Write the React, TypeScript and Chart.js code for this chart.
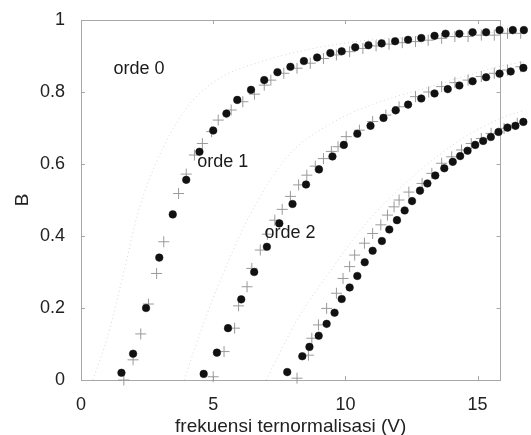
import React, { useEffect, useRef } from "react";
import { Chart, registerables } from "chart.js";

Chart.register(...registerables);

// Measured data: order 0, 1, 2 (filled circles)
const ord0X = [1.53, 1.97, 2.46, 2.96, 3.47, 3.98, 4.48, 5.0, 5.5, 5.91, 6.43, 6.93, 7.43, 7.92, 8.43, 8.93, 9.43, 9.86, 10.37, 10.87, 11.37, 11.88, 12.37, 12.87, 13.37, 13.79, 14.31, 14.81, 15.32, 15.83, 16.33, 16.75];
const ord0Y = [0.02, 0.073, 0.2, 0.34, 0.46, 0.556, 0.634, 0.693, 0.74, 0.778, 0.806, 0.833, 0.855, 0.87, 0.886, 0.896, 0.908, 0.913, 0.924, 0.93, 0.935, 0.941, 0.945, 0.95, 0.956, 0.962, 0.962, 0.966, 0.966, 0.972, 0.972, 0.972];

const ord1X = [4.64, 5.14, 5.56, 6.06, 6.55, 7.03, 7.5, 8.0, 8.51, 9.0, 9.51, 9.94, 10.45, 10.95, 11.44, 11.9, 12.37, 12.87, 13.37, 13.87, 14.31, 14.81, 15.32, 15.83, 16.25, 16.73];
const ord1Y = [0.017, 0.076, 0.144, 0.224, 0.3, 0.37, 0.435, 0.489, 0.543, 0.585, 0.621, 0.653, 0.684, 0.706, 0.728, 0.749, 0.765, 0.782, 0.796, 0.808, 0.818, 0.83, 0.841, 0.851, 0.857, 0.867];

const ord2X = [7.8, 8.37, 8.64, 8.99, 9.29, 9.59, 9.86, 10.16, 10.45, 10.73, 11.03, 11.38, 11.66, 11.95, 12.24, 12.52, 12.82, 13.1, 13.4, 13.74, 14.06, 14.34, 14.62, 14.91, 15.21, 15.5, 15.79, 16.13, 16.43, 16.73];
const ord2Y = [0.022, 0.066, 0.092, 0.123, 0.156, 0.187, 0.225, 0.257, 0.289, 0.327, 0.359, 0.386, 0.418, 0.444, 0.471, 0.497, 0.526, 0.546, 0.568, 0.588, 0.606, 0.622, 0.637, 0.653, 0.664, 0.675, 0.689, 0.701, 0.706, 0.717];

// Crosses (second data set)
const crs0X = [1.62, 1.97, 2.26, 2.55, 2.86, 3.13, 3.69, 3.98, 4.29, 4.59, 4.94, 5.19, 5.68, 6.12, 6.56, 6.93, 7.18, 7.67, 8.17, 8.67, 9.17, 9.66, 10.16, 10.66, 11.16, 11.65, 12.15, 12.65, 13.13, 13.64, 14.14, 14.64, 15.14, 15.63, 16.13, 16.63];
const crs0Y = [0.0, 0.056, 0.128, 0.211, 0.296, 0.384, 0.518, 0.572, 0.625, 0.657, 0.69, 0.722, 0.75, 0.773, 0.794, 0.819, 0.833, 0.852, 0.866, 0.88, 0.893, 0.903, 0.912, 0.921, 0.928, 0.933, 0.937, 0.94, 0.944, 0.949, 0.954, 0.954, 0.958, 0.958, 0.963, 0.963];

const crs1X = [5.0, 5.41, 5.81, 5.96, 6.28, 6.46, 6.78, 7.05, 7.33, 7.61, 7.92, 8.23, 8.54, 8.86, 9.17, 9.47, 9.72, 10.03, 10.53, 11.03, 11.53, 12.03, 12.65, 13.15, 13.64, 14.14, 14.64, 15.14, 15.63, 16.13, 16.63];
const crs1Y = [0.009, 0.079, 0.144, 0.206, 0.259, 0.31, 0.361, 0.405, 0.444, 0.474, 0.51, 0.542, 0.569, 0.594, 0.615, 0.635, 0.648, 0.676, 0.694, 0.718, 0.736, 0.759, 0.787, 0.8, 0.815, 0.826, 0.833, 0.843, 0.852, 0.861, 0.87];

const crs2X = [8.17, 8.6, 8.73, 8.98, 9.29, 9.66, 9.91, 10.16, 10.35, 10.72, 11.03, 11.34, 11.59, 11.84, 12.03, 12.4, 12.9, 13.27, 13.64, 14.02, 14.39, 14.76, 15.14, 15.51, 16.0, 16.5];
const crs2Y = [0.005, 0.069, 0.116, 0.153, 0.199, 0.241, 0.282, 0.315, 0.347, 0.38, 0.407, 0.431, 0.458, 0.481, 0.5, 0.522, 0.546, 0.574, 0.602, 0.62, 0.639, 0.657, 0.671, 0.685, 0.699, 0.713];

// Faint dotted theoretical curves
const th0X = [0.45, 1.0, 1.62, 2.14, 2.82, 3.94, 5.06, 6.8, 9.9, 13.0, 16.8];
const th0Y = [0.0, 0.12, 0.3, 0.46, 0.6, 0.75, 0.83, 0.884, 0.935, 0.955, 0.97];
const th1X = [3.9, 4.6, 5.4, 6.4, 7.8, 9.4, 11.0, 13.0, 15.8, 16.8];
const th1Y = [0.0, 0.15, 0.3, 0.46, 0.62, 0.71, 0.765, 0.81, 0.87, 0.885];
const th2X = [7.0, 8.2, 9.5, 10.5, 11.6, 14.0, 15.88, 16.8];
const th2Y = [0.0, 0.17, 0.31, 0.41, 0.5, 0.65, 0.727, 0.75];

// Labels
const labelTexts = ["orde 0", "orde 1", "orde 2"];
const labelX = [1.23, 4.4, 6.94];
const labelY = [0.864, 0.606, 0.408];
const xTitle = "frekuensi ternormalisasi (V)";
const yTitle = "B";

const xTicks = [0, 5, 10, 15];
const yTicks = [0, 0.2, 0.4, 0.6, 0.8, 1];
const X_BOX_MAX = 15.86; // right edge of the framed box
const X_SCALE_MAX = 17.87; // scale extends past the visible window (data is cut off)

const FONT = "'Liberation Sans', Arial, sans-serif";

const pts = (xs: number[], ys: number[]) => xs.map((x, i) => ({ x, y: ys[i] }));

const boxPlugin = {
  id: "boxPlugin",
  beforeDatasetsDraw(chart: any) {
    const { ctx, chartArea: a, scales } = chart;
    const x = scales.x, y = scales.y;
    const right = Math.round(x.getPixelForValue(X_BOX_MAX));
    ctx.save();
    ctx.strokeStyle = "#a8a8a8";
    ctx.lineWidth = 1;
    ctx.strokeRect(Math.round(a.left) + 0.5, Math.round(a.top) + 0.5, right - Math.round(a.left), Math.round(a.bottom - a.top));
    const tl = 4;
    ctx.beginPath();
    xTicks.forEach((v) => {
      const px = Math.round(x.getPixelForValue(v)) + 0.5;
      ctx.moveTo(px, a.bottom);
      ctx.lineTo(px, a.bottom - tl);
      ctx.moveTo(px, a.top);
      ctx.lineTo(px, a.top + tl);
    });
    yTicks.forEach((v) => {
      const py = Math.round(y.getPixelForValue(v)) + 0.5;
      ctx.moveTo(a.left, py);
      ctx.lineTo(a.left + tl, py);
      ctx.moveTo(right + 0.5, py);
      ctx.lineTo(right + 0.5 - tl, py);
    });
    ctx.stroke();
    ctx.restore();
  },
  afterDatasetsDraw(chart: any) {
    const { ctx, scales, chartArea: a } = chart;
    ctx.save();
    ctx.fillStyle = "#1a1a1a";
    ctx.font = `18px ${FONT}`;
    ctx.textAlign = "left";
    ctx.textBaseline = "middle";
    labelTexts.forEach((t, i) => {
      ctx.fillText(t, scales.x.getPixelForValue(labelX[i]), scales.y.getPixelForValue(labelY[i]));
    });
    // x-axis title centred under the framed box
    const right = scales.x.getPixelForValue(X_BOX_MAX);
    ctx.fillStyle = "#222";
    ctx.font = `19px ${FONT}`;
    ctx.textAlign = "center";
    ctx.fillText(xTitle, (a.left + right) / 2, a.bottom + 47);
    ctx.restore();
  },
};

export default function App() {
  const ref = useRef<HTMLCanvasElement>(null);
  useEffect(() => {
    document.body.style.margin = "0";
    const dot = (xs: number[], ys: number[]) => ({
      data: pts(xs, ys),
      showLine: false,
      pointStyle: "circle",
      pointRadius: 3.8,
      pointBackgroundColor: "#111",
      pointBorderColor: "#111",
      pointBorderWidth: 0.5,
      clip: false,
    });
    const cross = (xs: number[], ys: number[]) => ({
      data: pts(xs, ys),
      showLine: false,
      pointStyle: "cross",
      pointRadius: 5.5,
      pointBorderColor: "#9a9a9a",
      pointBorderWidth: 1,
      clip: false,
    });
    const theory = (xs: number[], ys: number[]) => ({
      data: pts(xs, ys),
      showLine: true,
      borderColor: "#d6d6d6",
      borderWidth: 1,
      borderDash: [1, 3],
      pointRadius: 0,
      cubicInterpolationMode: "monotone",
      clip: false,
    });
    const chart = new Chart(ref.current!, {
      type: "scatter",
      data: {
        datasets: [
          dot(ord0X, ord0Y),
          dot(ord1X, ord1Y),
          dot(ord2X, ord2Y),
          cross(crs0X, crs0Y),
          cross(crs1X, crs1Y),
          cross(crs2X, crs2Y),
          theory(th0X, th0Y),
          theory(th1X, th1Y),
          theory(th2X, th2Y),
        ] as any,
      },
      options: {
        animation: false,
        responsive: false,
        devicePixelRatio: 1,
        layout: { padding: { top: 20, right: 0, left: 0, bottom: 0 } },
        plugins: { legend: { display: false }, tooltip: { enabled: false } },
        scales: {
          x: {
            type: "linear",
            min: 0,
            max: X_SCALE_MAX,
            afterFit: (s: any) => { s.height = 55; },
            afterBuildTicks: (s: any) => { s.ticks = xTicks.map((v) => ({ value: v })); },
            grid: { display: false },
            border: { display: false },
            ticks: {
              color: "#222",
              padding: 6,
              maxRotation: 0,
              autoSkip: false,
              font: { family: FONT, size: 18 },
            },
            title: { display: false },
          },
          y: {
            type: "linear",
            min: 0,
            max: 1,
            afterFit: (s: any) => { s.width = 81; },
            afterBuildTicks: (s: any) => { s.ticks = yTicks.map((v) => ({ value: v })); },
            grid: { display: false },
            border: { display: false },
            ticks: {
              color: "#222",
              padding: 8,
              font: { family: FONT, size: 18 },
              callback: (v: any) => String(Math.round(Number(v) * 10) / 10),
            },
            title: {
              display: true,
              text: yTitle,
              color: "#222",
              font: { family: FONT, size: 19, lineHeight: 1 },
              padding: { top: 13, bottom: 0 },
            },
          },
        },
      } as any,
      plugins: [boxPlugin],
    });
    return () => chart.destroy();
  }, []);
  return (
    <div style={{ position: "absolute", left: 0, top: 0, width: 531, height: 435, overflow: "hidden", background: "#fff" }}>
      <canvas ref={ref} width={560} height={435} style={{ display: "block" }} />
    </div>
  );
}
